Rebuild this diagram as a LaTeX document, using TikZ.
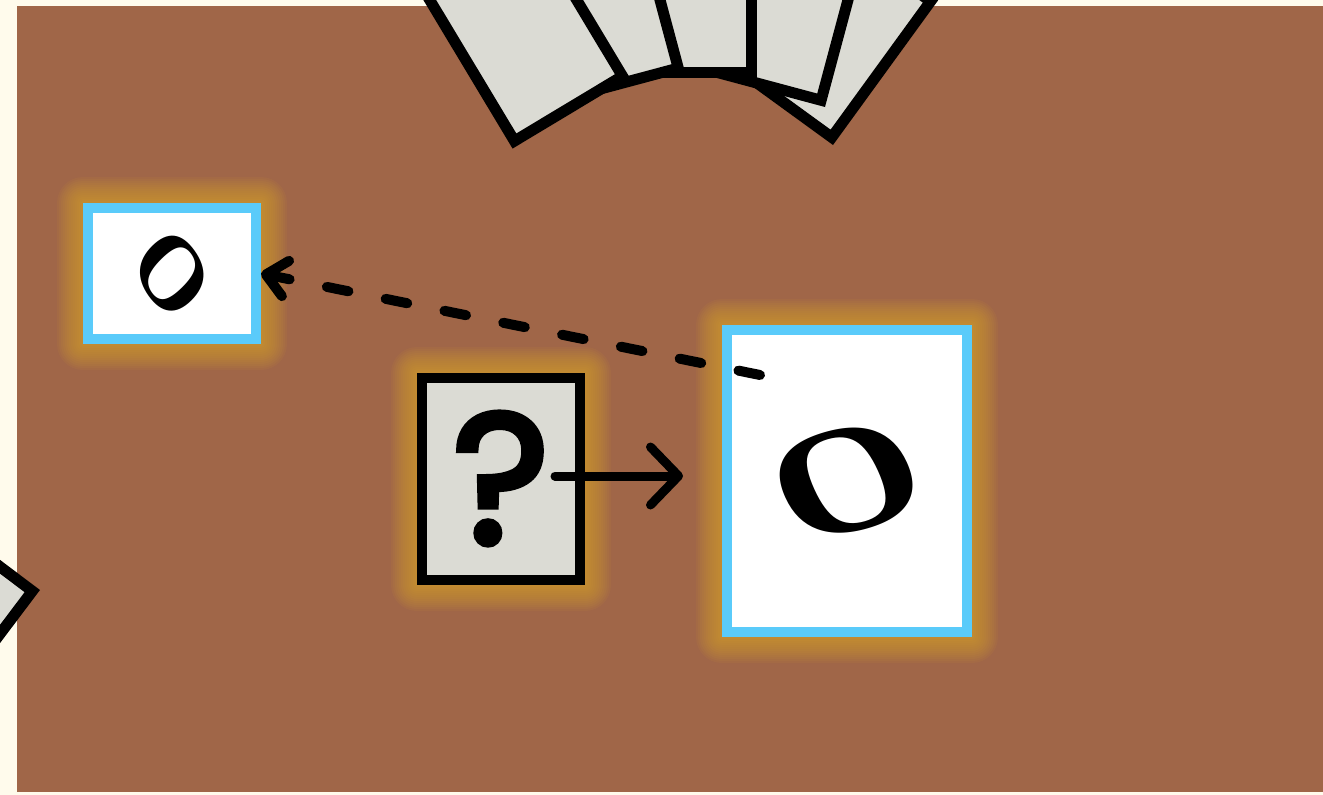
\documentclass[tikz,border=0pt]{standalone}
\usepackage{fontspec}
\usepackage{graphicx}
\usetikzlibrary{arrows.meta,calc}
\newfontfamily\qfont{Poppins}[FakeBold=3.5]
\newfontfamily\ofont{Liberation Serif}
\definecolor{cream}{RGB}{255,251,236}
\definecolor{tablec}{RGB}{160,102,72}
\definecolor{cardgray}{RGB}{219,219,212}
\definecolor{skyblue}{RGB}{90,203,250}
\definecolor{glowc}{RGB}{222,170,40}
\tikzset{
  fancard/.style={draw=black, fill=cardgray, line width=11pt, minimum width=126pt, minimum height=168pt, inner sep=0pt},
  bluecard/.style={draw=skyblue, fill=white, line width=10pt, inner sep=0pt},
  qcard/.style={draw=black, fill=cardgray, line width=10pt, inner sep=0pt, minimum width=158pt, minimum height=202pt},
  conn/.style={line width=9pt, line cap=round, line join=round},
}
\newcommand\cardglow[4]{%
  \foreach \r in {2,4,...,26}{\fill[glowc, opacity=0.065, rounded corners=\r pt] ({#1-\r},{#2-\r}) rectangle ({#3+\r},{#4+\r});}}
\begin{document}
\begin{tikzpicture}[x=1pt,y=-1pt]
\useasboundingbox (0,0) rectangle (1323,795);
\fill[cream] (0,0) rectangle (1323,795);
\fill[tablec] (17,6) rectangle (1323,792);
% glows
\cardglow{83}{203}{261}{344}
\cardglow{417}{373}{585}{585}
\cardglow{722}{325}{972}{637}
% fan of cards at the top
\node[fancard, rotate=-36, anchor=south east] (f5) at (833,145) {};
\node[fancard, rotate=-15, anchor=south east] (f4) at (825,107) {};
\node[fancard, rotate=0, anchor=south east] (f3) at (757,78) {};
\node[fancard, rotate=15, anchor=south east] (f2) at (685,72) {};
\node[fancard, rotate=31, anchor=south east] (f1) at (630,78) {};
% card at the left edge
\node[fancard, rotate=53, anchor=south east] (fl) at (40,590) {};
% cards
\node[bluecard, minimum width=168pt, minimum height=131pt] (small) at (172,273.5)
  {\fontsize{105}{105}\selectfont\ofont\bfseries\scalebox{0.85}[1]{\rotatebox[origin=c]{-50}{O}}};
\node[qcard] (q) at (501,479) {\raisebox{2pt}{\fontsize{185}{185}\selectfont\qfont ?}};
\node[bluecard, minimum width=240pt, minimum height=302pt] (big) at (847,481)
  {\raisebox{-7pt}{\fontsize{152}{152}\selectfont\ofont\bfseries\scalebox{1.25}[1]{\rotatebox[origin=c]{20}{O}}}};
% connectors
\draw[conn, shorten <=54pt, shorten >=39pt, -{Straight Barb[round, length=28pt, width=58pt]}]
  ([yshift=3pt]q.center) -- ([yshift=3pt]q.center -| big.west);
\coordinate (ds) at (760,375);
\draw[conn, line width=10pt, dash pattern=on 22pt off 38pt, -{Straight Barb[round, length=20pt, width=36pt]}]
  (ds) -- (small.east);
\end{tikzpicture}
\end{document}
